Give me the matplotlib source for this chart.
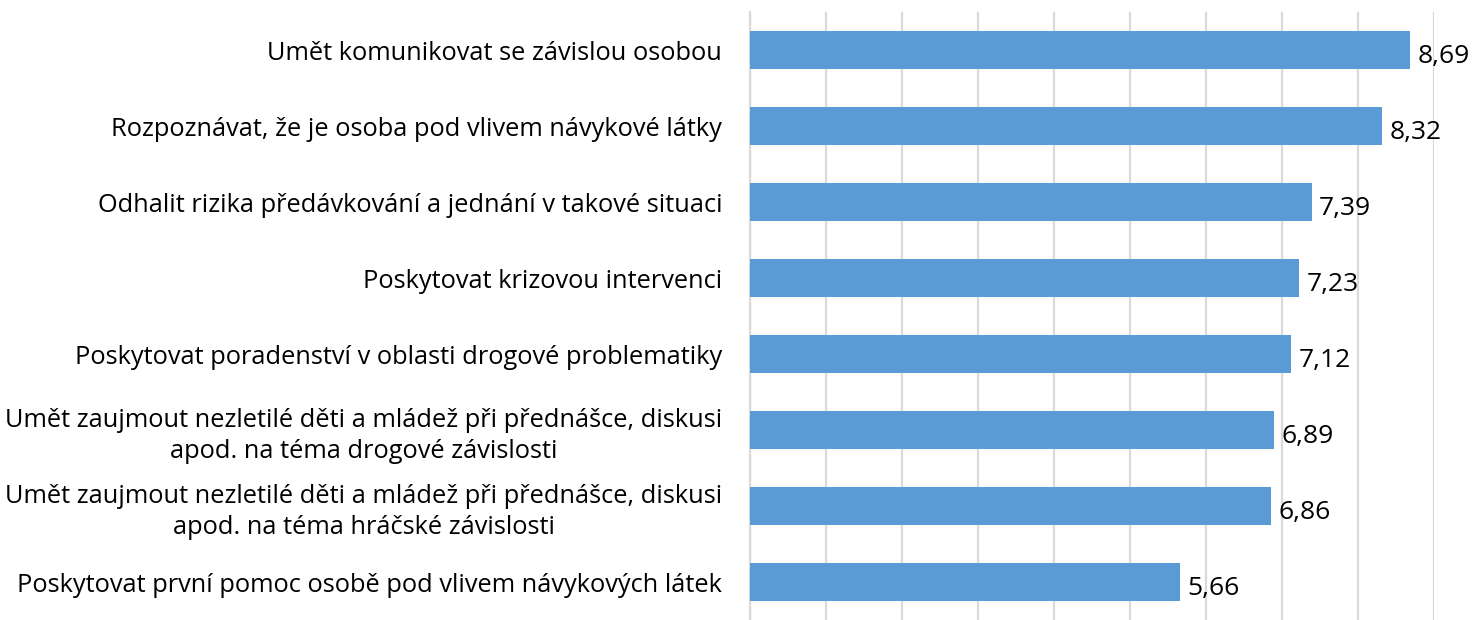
import matplotlib
matplotlib.use("Agg")
import matplotlib.pyplot as plt

categories = [
    "Umět komunikovat se závislou osobou",
    "Rozpoznávat, že je osoba pod vlivem návykové látky",
    "Odhalit rizika předávkování a jednání v takové situaci",
    "Poskytovat krizovou intervenci",
    "Poskytovat poradenství v oblasti drogové problematiky",
    "Umět zaujmout nezletilé děti a mládež při přednášce, diskusi\napod. na téma drogové závislosti",
    "Umět zaujmout nezletilé děti a mládež při přednášce, diskusi\napod. na téma hráčské závislosti",
    "Poskytovat první pomoc osobě pod vlivem návykových látek",
]
values = [8.69, 8.32, 7.39, 7.23, 7.12, 6.89, 6.86, 5.66]
value_labels = ["8,69", "8,32", "7,39", "7,23", "7,12", "6,89", "6,86", "5,66"]

plt.rcParams['font.family'] = ['Open Sans', 'DejaVu Sans']

fig = plt.figure(figsize=(14.78, 6.2), dpi=100)
ax = fig.add_axes([750/1478, 0.0, 684/1478, 608/620])

y = list(range(len(categories)))
ax.barh(y, values, height=0.5, color="#5b9bd5", zorder=3)
ax.set_ylim(len(categories) - 0.5, -0.5)
ax.set_xlim(0, 9)
ax.set_xticks(range(0, 10))
ax.set_xticklabels([])
ax.tick_params(axis='x', length=0)
ax.tick_params(axis='y', length=0, pad=20)
ax.set_yticks(y)
ax.set_yticklabels(categories, fontsize=18.3, color="#000000",
                   multialignment='center', linespacing=1.3)
ax.grid(axis='x', color="#d9d9d9", linewidth=1.6, zorder=0)
for s in ['top', 'right', 'bottom']:
    ax.spines[s].set_visible(False)
ax.spines['left'].set_color("#d9d9d9")
ax.spines['left'].set_linewidth(1.6)

for yi, v, lab in zip(y, values, value_labels):
    ax.text(v + 0.1, yi + 0.08, lab, va='center', ha='left', fontsize=19, color="#000000")

fig.savefig("out.png", dpi=100)
